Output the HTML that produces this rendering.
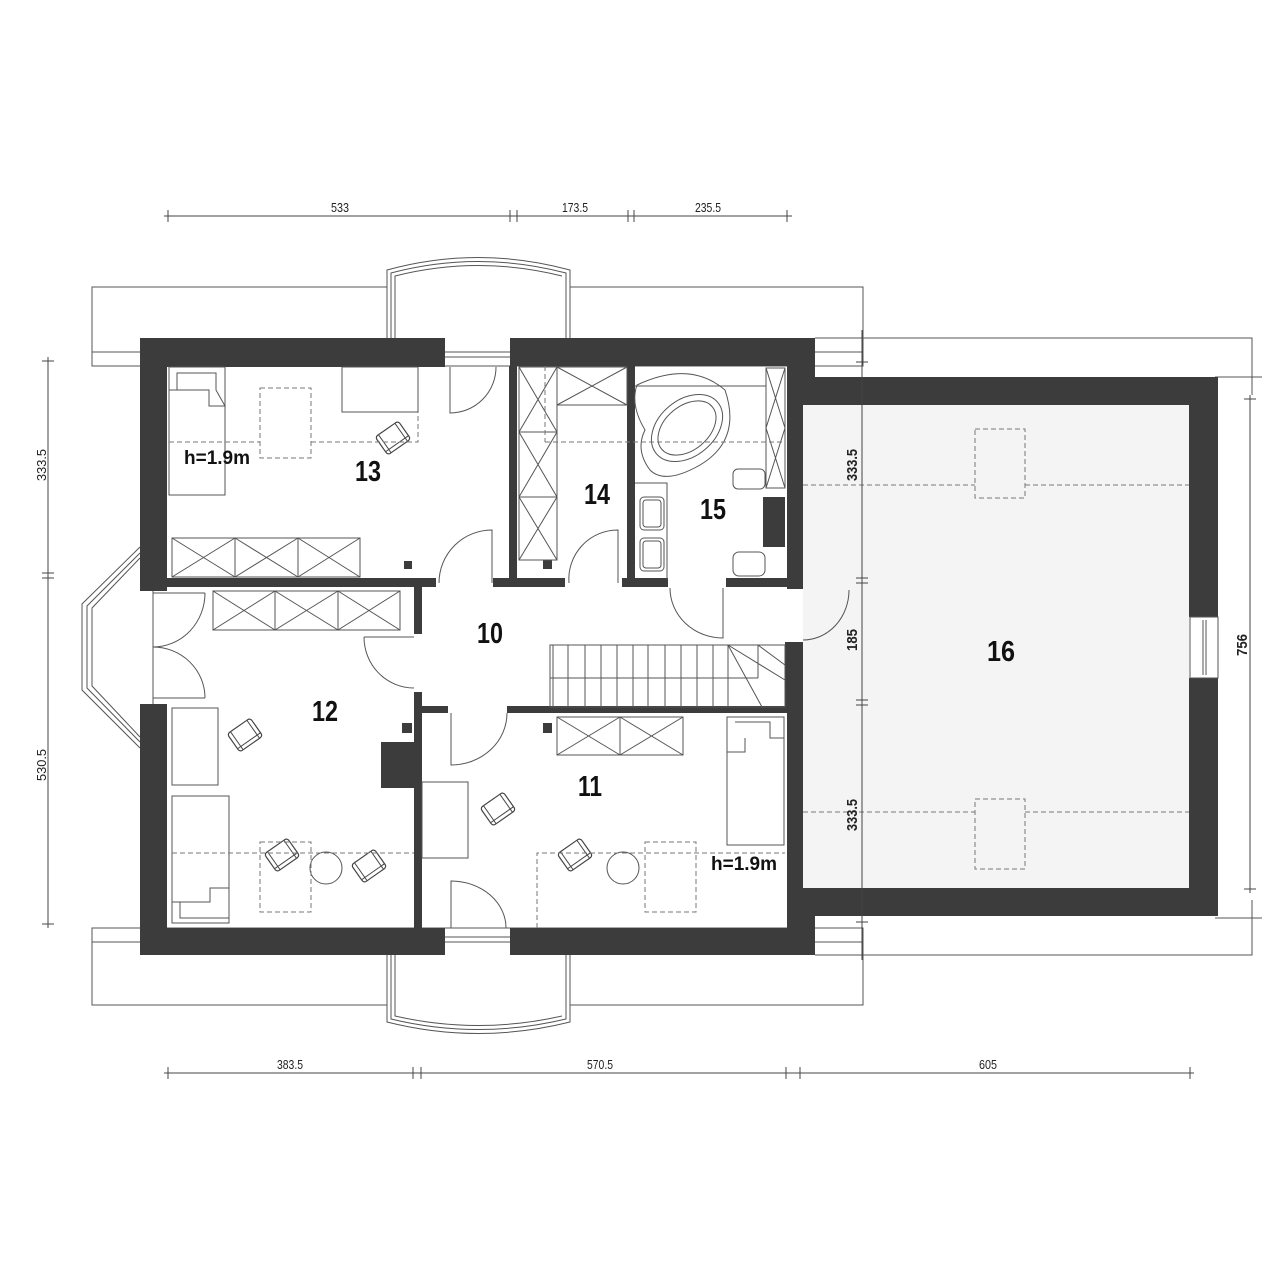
<!DOCTYPE html>
<html><head><meta charset="utf-8"><style>html,body{margin:0;padding:0;background:#fff}svg{display:block}</style></head>
<body>
<svg width="1280" height="1280" viewBox="0 0 1280 1280" xmlns="http://www.w3.org/2000/svg" font-family="'Liberation Sans',sans-serif">
<defs>
<g id="chair"><rect x="-14" y="-11" width="28" height="22" rx="3" fill="#fff" stroke="#444" stroke-width="1.2"/><line x1="-14" y1="7" x2="14" y2="7" stroke="#444" stroke-width="1"/><line x1="-10" y1="-11" x2="-10" y2="11" stroke="#444" stroke-width="1"/><line x1="10" y1="-11" x2="10" y2="11" stroke="#444" stroke-width="1"/></g>
</defs>
<g fill="none" stroke="#555" stroke-width="1">
<path d="M387 287 H92 V366 H863 V287 H570"/>
<line x1="92" y1="352" x2="863" y2="352"/>
<path d="M387 338 V270 Q478 245 570 270 V338"/>
<path d="M391 338 V273 Q478 250 566 273 V338"/>
<path d="M395 338 V276 Q478 255 562 276"/>
<path d="M387 1005 H92 V928 H863 V1005 H570"/>
<line x1="92" y1="942" x2="863" y2="942"/>
<path d="M387 955 V1022 Q478 1045 570 1022 V955"/>
<path d="M391 955 V1019 Q478 1040 566 1019 V955"/>
<path d="M395 955 V1016 Q478 1035 562 1016"/>
<path d="M815 338 H1252 V395 M1215 377 H1262 M815 352 H860"/>
<path d="M815 955 H1252 V900 M1215 918 H1262 M815 942 H860"/>
<path d="M140 547 L82 604 V690 L140 748"/>
<path d="M140 553 L87 606 V688 L140 742"/>
<path d="M140 558 L92 608 V686 L140 737"/>
</g>
<rect x="803" y="405" width="386" height="483" fill="#f4f4f4"/>
<g fill="#3c3c3c">
<rect x="140" y="338" width="305" height="29"/>
<rect x="510" y="338" width="305" height="28"/>
<rect x="140" y="338" width="27" height="253"/>
<rect x="140" y="704" width="27" height="251"/>
<rect x="140" y="928" width="305" height="27"/>
<rect x="510" y="928" width="305" height="27"/>
<rect x="787" y="338" width="28" height="40"/>
<rect x="787" y="338" width="16" height="251"/>
<rect x="787" y="642" width="16" height="313"/>
<rect x="787" y="888" width="28" height="67"/>
<rect x="787" y="377" width="431" height="28"/>
<rect x="787" y="888" width="431" height="28"/>
<rect x="1189" y="377" width="29" height="240"/>
<rect x="1189" y="678" width="29" height="238"/>
<rect x="167" y="578" width="269" height="9"/>
<rect x="493" y="578" width="72" height="9"/>
<rect x="622" y="578" width="46" height="9"/>
<rect x="726" y="578" width="61" height="9"/>
<rect x="509" y="366" width="8" height="216"/>
<rect x="627" y="366" width="8" height="216"/>
<rect x="414" y="587" width="8" height="47"/>
<rect x="414" y="692" width="8" height="236"/>
<rect x="422" y="706" width="26" height="7"/>
<rect x="507" y="706" width="280" height="7"/>
<rect x="785" y="642" width="18" height="70"/>
<rect x="763" y="497" width="22" height="50"/>
<rect x="381" y="742" width="33" height="46"/>
<rect x="404" y="561" width="8" height="8"/>
<rect x="543" y="560" width="9" height="9"/>
<rect x="402" y="723" width="10" height="10"/>
<rect x="543" y="723" width="9" height="10"/>
</g>
<g fill="none" stroke="#555" stroke-width="1">
<rect x="1190" y="617" width="28" height="61" fill="#fff"/>
<line x1="1203" y1="620" x2="1203" y2="675"/><line x1="1206" y1="620" x2="1206" y2="675"/>
<line x1="445" y1="352" x2="510" y2="352"/><line x1="445" y1="357" x2="510" y2="357"/>
<line x1="445" y1="937" x2="510" y2="937"/><line x1="445" y1="942" x2="510" y2="942"/>
<path d="M450 367 V413 A46 46 0 0 0 496 367"/>
<path d="M492 583 V530 A53 53 0 0 0 439 583"/>
<path d="M618 583 V530 A49 49 0 0 0 569 583"/>
<path d="M723 588 V638 A53 50 0 0 1 670 588"/>
<path d="M803 640 A46 50 0 0 0 849 590"/>
<path d="M205 593 H153 M205 593 A52 54 0 0 1 153 647 M153 647 A52 51 0 0 1 205 698 M153 698 H205"/>
<line x1="153" y1="591" x2="153" y2="704"/>
<path d="M364 637 H414 M364 637 A50 51 0 0 0 414 688"/>
<path d="M451 713 V765 A56 52 0 0 0 507 713"/>
<path d="M451 928 V881 A55 47 0 0 1 506 928"/>
<rect x="172" y="538" width="188" height="39"/>
<path d="M235 538 V577 M298 538 V577 M172 538 L235 577 M235 538 L172 577 M235 538 L298 577 M298 538 L235 577 M298 538 L360 577 M360 538 L298 577"/>
<rect x="213" y="591" width="187" height="39"/>
<path d="M275 591 V630 M338 591 V630 M213 591 L275 630 M275 591 L213 630 M275 591 L338 630 M338 591 L275 630 M338 591 L400 630 M400 591 L338 630"/>
<rect x="557" y="717" width="126" height="38"/>
<path d="M620 717 V755 M557 717 L620 755 M620 717 L557 755 M620 717 L683 755 M683 717 L620 755"/>
<rect x="519" y="367" width="38" height="193"/>
<path d="M519 432 H557 M519 497 H557 M519 367 L557 432 M557 367 L519 432 M519 432 L557 497 M557 432 L519 497 M519 497 L557 560 M557 497 L519 560"/>
<rect x="557" y="367" width="70" height="38"/>
<path d="M557 367 L627 405 M627 367 L557 405"/>
<rect x="766" y="368" width="19" height="120"/>
<path d="M766 368 L785 428 M785 368 L766 428 M766 428 L785 488 M785 428 L766 488"/>
<rect x="169" y="367" width="56" height="128"/>
<path d="M177 373 H216 V390 L225 406 H209 V390 H177 Z M169 390 H209"/>
<rect x="342" y="367" width="76" height="45"/>
<rect x="172" y="708" width="46" height="77"/>
<rect x="172" y="796" width="57" height="127"/>
<path d="M172 902 H210 V888 H229 V918 H180 V902"/>
<circle cx="326" cy="868" r="16"/>
<rect x="422" y="782" width="46" height="76"/>
<rect x="727" y="717" width="57" height="128"/>
<path d="M735 722 H770 V738 H784 M745 738 V752 H727"/>
<circle cx="623" cy="868" r="16"/>
<path d="M637 385 Q690 360 725 390 Q742 440 700 465 Q665 485 650 470 Q635 450 645 430 Q630 405 637 385 Z"/>
<ellipse cx="687" cy="428" rx="40" ry="28" transform="rotate(-40 687 428)"/>
<ellipse cx="687" cy="428" rx="33" ry="22" transform="rotate(-40 687 428)"/>
<path d="M635 483 H667 V580"/>
<rect x="640" y="497" width="24" height="33" rx="4"/><rect x="643" y="500" width="18" height="27" rx="3"/>
<rect x="640" y="538" width="24" height="33" rx="4"/><rect x="643" y="541" width="18" height="27" rx="3"/>
<rect x="733" y="469" width="32" height="20" rx="5"/>
<rect x="733" y="552" width="32" height="24" rx="6"/>
<line x1="635" y1="386" x2="766" y2="386"/>
<rect x="550" y="645" width="235" height="62"/>
<line x1="550" y1="678" x2="758" y2="678"/>
<path d="M553 645 V707 M568 645 V707 M585 645 V707 M601 645 V707 M617 645 V707 M633 645 V707 M648 645 V707 M665 645 V707 M681 645 V707 M697 645 V707 M713 645 V707 M728 645 V707"/>
<path d="M728 645 L762 707 M728 645 L785 680 M758 645 L785 665 M758 645 V678"/>
</g>
<g>
<use href="#chair" transform="translate(393 438) rotate(-35)"/>
<use href="#chair" transform="translate(245 735) rotate(-35)"/>
<use href="#chair" transform="translate(282 855) rotate(-35)"/>
<use href="#chair" transform="translate(369 866) rotate(-35)"/>
<use href="#chair" transform="translate(498 809) rotate(-35)"/>
<use href="#chair" transform="translate(575 855) rotate(-35)"/>
</g>
<g fill="none" stroke="#777" stroke-width="1" stroke-dasharray="5,3">
<rect x="260" y="388" width="51" height="70"/>
<path d="M169 442 H260 M311 442 H418 V412"/>
<path d="M545 366 V442 M545 442 H785"/>
<rect x="260" y="842" width="51" height="70"/>
<path d="M172 853 H414"/>
<path d="M537 928 V853 H785"/>
<rect x="645" y="842" width="51" height="70"/>
<rect x="975" y="429" width="50" height="69"/>
<rect x="975" y="799" width="50" height="70"/>
<path d="M803 485 H975 M1025 485 H1189 M803 812 H975 M1025 812 H1189"/>
</g>
<g stroke="#444" stroke-width="1" fill="none">
<line x1="164" y1="216" x2="792" y2="216"/>
<path d="M168 210 V222 M510 210 V222 M517 210 V222 M628 210 V222 M634 210 V222 M787 210 V222"/>
<line x1="164" y1="1073" x2="1194" y2="1073"/>
<path d="M168 1067 V1079 M413 1067 V1079 M421 1067 V1079 M786 1067 V1079 M800 1067 V1079 M1190 1067 V1079"/>
<line x1="48" y1="357" x2="48" y2="928"/>
<path d="M42 361 H54 M42 573 H54 M42 578 H54 M42 924 H54"/>
<line x1="1250" y1="395" x2="1250" y2="893"/>
<path d="M1244 399 H1256 M1244 889 H1256"/>
<line x1="862" y1="330" x2="862" y2="960"/>
<path d="M856 362 H868 M856 578 H868 M856 583 H868 M856 700 H868 M856 705 H868 M856 922 H868"/>
</g>
<g fill="#222" font-size="13" text-anchor="middle" lengthAdjust="spacingAndGlyphs">
<text x="340" y="212" textLength="18" lengthAdjust="spacingAndGlyphs">533</text>
<text x="575" y="212" textLength="26" lengthAdjust="spacingAndGlyphs">173.5</text>
<text x="708" y="212" textLength="26" lengthAdjust="spacingAndGlyphs">235.5</text>
<text x="290" y="1069" textLength="26" lengthAdjust="spacingAndGlyphs">383.5</text>
<text x="600" y="1069" textLength="26" lengthAdjust="spacingAndGlyphs">570.5</text>
<text x="988" y="1069" textLength="18" lengthAdjust="spacingAndGlyphs">605</text>
<text transform="translate(46 465) rotate(-90)" textLength="32" lengthAdjust="spacingAndGlyphs">333.5</text>
<text transform="translate(46 765) rotate(-90)" textLength="32" lengthAdjust="spacingAndGlyphs">530.5</text>
<text transform="translate(1247 645) rotate(-90)" font-size="15" font-weight="bold" textLength="22" lengthAdjust="spacingAndGlyphs">756</text>
<text transform="translate(857 465) rotate(-90)" font-size="15" font-weight="bold" textLength="32" lengthAdjust="spacingAndGlyphs">333.5</text>
<text transform="translate(857 640) rotate(-90)" font-size="15" font-weight="bold" textLength="22" lengthAdjust="spacingAndGlyphs">185</text>
<text transform="translate(857 815) rotate(-90)" font-size="15" font-weight="bold" textLength="32" lengthAdjust="spacingAndGlyphs">333.5</text>
</g>
<g fill="#111" font-size="29" font-weight="bold" text-anchor="middle">
<text x="368" y="481" textLength="26" lengthAdjust="spacingAndGlyphs">13</text>
<text x="597" y="504" textLength="26" lengthAdjust="spacingAndGlyphs">14</text>
<text x="713" y="519" textLength="26" lengthAdjust="spacingAndGlyphs">15</text>
<text x="490" y="643" textLength="26" lengthAdjust="spacingAndGlyphs">10</text>
<text x="325" y="721" textLength="26" lengthAdjust="spacingAndGlyphs">12</text>
<text x="590" y="796" textLength="24" lengthAdjust="spacingAndGlyphs">11</text>
<text x="1001" y="661" textLength="28" lengthAdjust="spacingAndGlyphs">16</text>
</g>
<g fill="#111" font-size="19" font-weight="bold">
<text x="184" y="464" textLength="66" lengthAdjust="spacingAndGlyphs">h=1.9m</text>
<text x="711" y="870" textLength="66" lengthAdjust="spacingAndGlyphs">h=1.9m</text>
</g>
</svg>
</body></html>
